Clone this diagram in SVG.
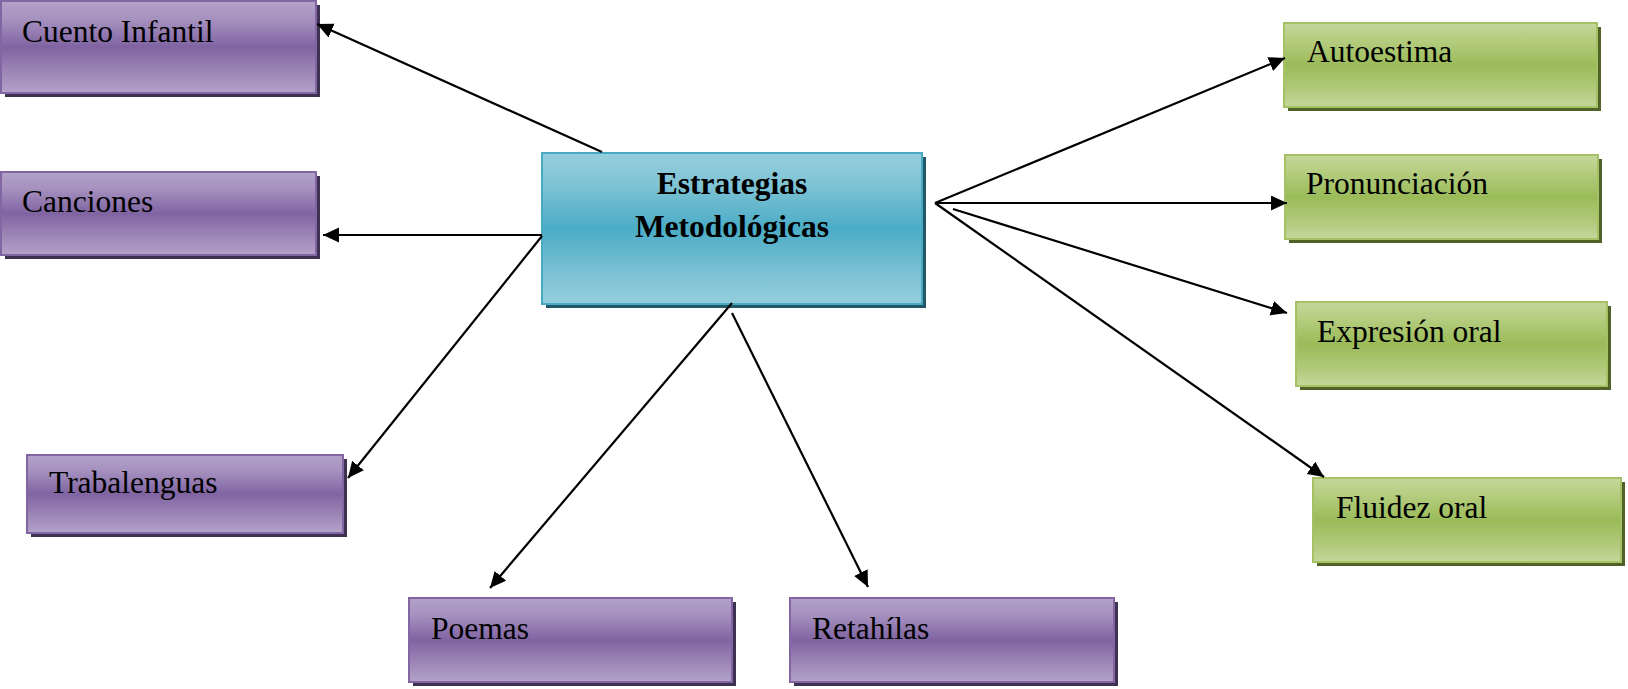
<svg xmlns="http://www.w3.org/2000/svg" width="1628" height="689" viewBox="0 0 1628 689">
<defs>
<linearGradient id="gP" x1="0" y1="0" x2="0" y2="1">
<stop offset="0" stop-color="#b3a2c9"/><stop offset="0.2" stop-color="#a691bf"/><stop offset="0.5" stop-color="#8064a2"/><stop offset="0.8" stop-color="#a08ab9"/><stop offset="1" stop-color="#b3a2c9"/>
</linearGradient>
<linearGradient id="gG" x1="0" y1="0" x2="0" y2="1">
<stop offset="0" stop-color="#c4d79c"/><stop offset="0.2" stop-color="#b5cd80"/><stop offset="0.5" stop-color="#9bbb59"/><stop offset="0.8" stop-color="#b2ca7c"/><stop offset="1" stop-color="#c4d79c"/>
</linearGradient>
<linearGradient id="gB" x1="0" y1="0" x2="0" y2="1">
<stop offset="0" stop-color="#95cedd"/><stop offset="0.2" stop-color="#80c4d5"/><stop offset="0.5" stop-color="#4bacc6"/><stop offset="0.8" stop-color="#7cc2d4"/><stop offset="1" stop-color="#95cedd"/>
</linearGradient>
<marker id="ah" markerUnits="userSpaceOnUse" markerWidth="18" markerHeight="16" refX="16" refY="7.5" orient="auto">
<path d="M0,0 L16,7.5 L0,15 Z" fill="#000"/>
</marker>
<style>
.p{fill:url(#gP);stroke:#8266a3;stroke-width:2}
.ps{fill:#3f3151}
.g{fill:url(#gG);stroke:#a4c264;stroke-width:2}
.gs{fill:#4f6228}
.b{fill:url(#gB);stroke:#4aa9c2;stroke-width:2}
.bs{fill:#215968}
.t{font-family:"Liberation Serif","Times New Roman",serif;font-size:31.5px;fill:#000}
.tb{font-family:"Liberation Serif","Times New Roman",serif;font-size:31.5px;font-weight:bold;fill:#000;text-anchor:middle}
.c{stroke:#000;stroke-width:2.2;fill:none;marker-end:url(#ah)}
</style>
</defs>
<rect width="1628" height="689" fill="#fff"/>

<g id="cuento">
<rect class="ps" x="5" y="5" width="315" height="92"/>
<rect class="p" x="1" y="1" width="315" height="92"/>
<text class="t" x="22" y="42">Cuento Infantil</text>
</g>
<g id="canciones">
<rect class="ps" x="5" y="176" width="315" height="83"/>
<rect class="p" x="1" y="172" width="315" height="83"/>
<text class="t" x="22" y="212">Canciones</text>
</g>
<g id="trabalenguas">
<rect class="ps" x="31" y="459" width="316" height="78"/>
<rect class="p" x="27" y="455" width="316" height="78"/>
<text class="t" x="49" y="493">Trabalenguas</text>
</g>
<g id="poemas">
<rect class="ps" x="413" y="602" width="323" height="84"/>
<rect class="p" x="409" y="598" width="323" height="84"/>
<text class="t" x="431" y="639">Poemas</text>
</g>
<g id="retahilas">
<rect class="ps" x="794" y="602" width="324" height="84"/>
<rect class="p" x="790" y="598" width="324" height="84"/>
<text class="t" x="812" y="639">Retahílas</text>
</g>
<g id="estrategias">
<rect class="bs" x="546" y="157" width="380" height="151"/>
<rect class="b" x="542" y="153" width="380" height="151"/>
<text class="tb" x="732" y="194">Estrategias</text>
<text class="tb" x="732" y="237">Metodológicas</text>
</g>
<g id="autoestima">
<rect class="gs" x="1288" y="27" width="313" height="84"/>
<rect class="g" x="1284" y="23" width="313" height="84"/>
<text class="t" x="1307" y="62">Autoestima</text>
</g>
<g id="pronunciacion">
<rect class="gs" x="1289" y="159" width="313" height="84"/>
<rect class="g" x="1285" y="155" width="313" height="84"/>
<text class="t" x="1306" y="194">Pronunciación</text>
</g>
<g id="expresion">
<rect class="gs" x="1300" y="306" width="311" height="84"/>
<rect class="g" x="1296" y="302" width="311" height="84"/>
<text class="t" x="1317" y="342">Expresión oral</text>
</g>
<g id="fluidez">
<rect class="gs" x="1317" y="482" width="308" height="84"/>
<rect class="g" x="1313" y="478" width="308" height="84"/>
<text class="t" x="1336" y="518">Fluidez oral</text>
</g>

<g id="connectors">
<line class="c" x1="602" y1="152" x2="317" y2="24"/>
<line class="c" x1="542" y1="235" x2="323" y2="235"/>
<line class="c" x1="542" y1="236" x2="348" y2="478"/>
<line class="c" x1="732" y1="303" x2="490" y2="588"/>
<line class="c" x1="732" y1="313" x2="868" y2="587"/>
<line class="c" x1="935" y1="203" x2="1285" y2="58"/>
<line class="c" x1="935" y1="203" x2="1287" y2="203"/>
<line class="c" x1="953" y1="209" x2="1287" y2="313"/>
<line class="c" x1="935" y1="203" x2="1324" y2="477"/>
</g>
</svg>
